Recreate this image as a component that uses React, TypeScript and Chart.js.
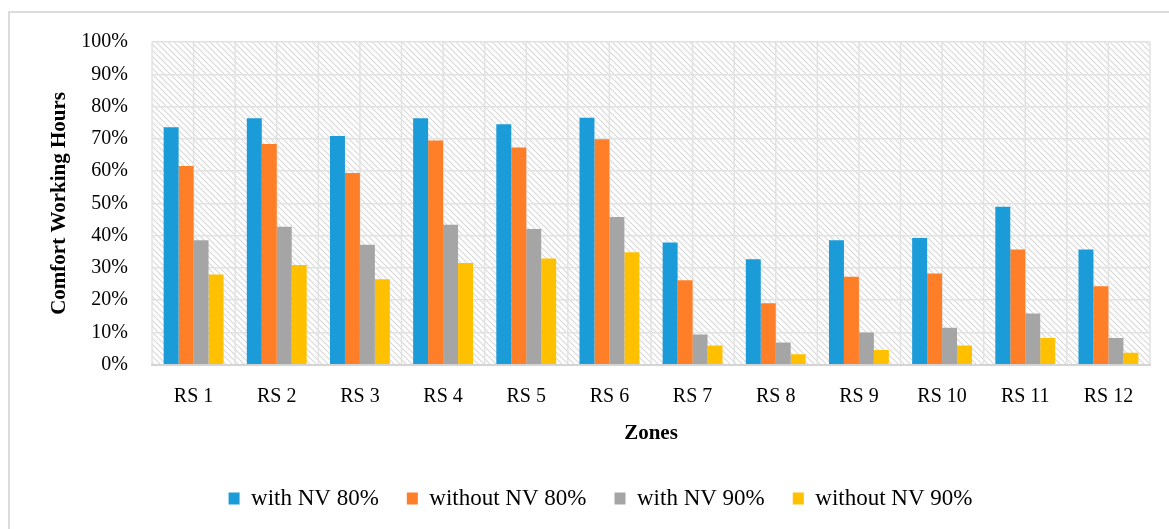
import React, { useEffect, useRef } from "react";
import { Chart, registerables } from "chart.js";

Chart.register(...registerables);

const categories = ["RS 1", "RS 2", "RS 3", "RS 4", "RS 5", "RS 6", "RS 7", "RS 8", "RS 9", "RS 10", "RS 11", "RS 12"];
const withNV80 = [73.6, 76.4, 70.9, 76.4, 74.5, 76.5, 37.9, 32.7, 38.6, 39.3, 49.0, 35.7];
const withoutNV80 = [61.6, 68.4, 59.4, 69.5, 67.3, 69.9, 26.2, 19.1, 27.3, 28.3, 35.7, 24.3];
const withNV90 = [38.6, 42.8, 37.2, 43.4, 42.1, 45.8, 9.4, 6.9, 10.0, 11.5, 15.9, 8.3];
const withoutNV90 = [28.0, 30.9, 26.5, 31.5, 32.9, 34.9, 6.0, 3.3, 4.6, 6.0, 8.3, 3.7];
const seriesLabels = ["with NV 80%", "without NV 80%", "with NV 90%", "without NV 90%"];
const seriesColors = ["#1B9BD7", "#FE7F27", "#A5A5A5", "#FFC000"];
const yTicks = [0, 10, 20, 30, 40, 50, 60, 70, 80, 90, 100];

const FONT = "'Liberation Serif', 'Times New Roman', serif";

function makePattern(): CanvasPattern | string {
  const c = document.createElement("canvas");
  const s = 6;
  c.width = s;
  c.height = s;
  const g = c.getContext("2d");
  if (!g) return "#fff";
  g.fillStyle = "#ffffff";
  g.fillRect(0, 0, s, s);
  g.strokeStyle = "#d9d9d9";
  g.lineWidth = 1.2;
  g.beginPath();
  g.moveTo(-1, -1);
  g.lineTo(s + 1, s + 1);
  g.moveTo(s - 1, -1);
  g.lineTo(s + 1, 1);
  g.moveTo(-1, s - 1);
  g.lineTo(1, s + 1);
  g.stroke();
  const p = g.createPattern(c, "repeat");
  return p || "#fff";
}

const backgroundPlugin = {
  id: "hatchBackground",
  beforeDraw(chart: any) {
    const { ctx, chartArea, scales } = chart;
    if (!chartArea) return;
    const { left, top, right, bottom } = chartArea;
    ctx.save();
    ctx.fillStyle = (chart as any).$pattern || "#fff";
    ctx.fillRect(left, top, right - left, bottom - top);
    // vertical grid lines at category centres and boundaries
    const x = scales.x;
    ctx.strokeStyle = "#e2e2e2";
    ctx.lineWidth = 1.5;
    ctx.beginPath();
    const n = categories.length;
    const half = (x.getPixelForValue(1) - x.getPixelForValue(0)) / 2;
    for (let i = 0; i < n; i++) {
      const c = x.getPixelForValue(i);
      ctx.moveTo(c, top);
      ctx.lineTo(c, bottom);
      ctx.moveTo(c - half, top);
      ctx.lineTo(c - half, bottom);
      if (i === n - 1) {
        ctx.moveTo(c + half, top);
        ctx.lineTo(c + half, bottom);
      }
    }
    ctx.stroke();
    ctx.restore();
  },
};

export default function App() {
  const ref = useRef<HTMLCanvasElement>(null);

  useEffect(() => {
    if (!ref.current) return;
    const data = [withNV80, withoutNV80, withNV90, withoutNV90];
    const chart = new Chart(ref.current, {
      type: "bar",
      data: {
        labels: categories,
        datasets: data.map((d, i) => ({
          label: seriesLabels[i],
          data: d,
          backgroundColor: seriesColors[i],
          borderWidth: 0,
          categoryPercentage: 0.72,
          barPercentage: 1.0,
        })),
      },
      options: {
        animation: false,
        responsive: false,
        maintainAspectRatio: false,
        layout: { padding: { top: 42, right: 19, bottom: 9, left: 51 } },
        plugins: {
          tooltip: { enabled: false },
          legend: {
            position: "bottom",
            labels: {
              font: { family: FONT, size: 23 },
              color: "#000",
              boxWidth: 11,
              boxHeight: 12,
              padding: 28,
            },
          },
        },
        scales: {
          x: {
            type: "category",
            offset: true,
            grid: { display: false, drawTicks: false },
            border: { display: true, color: "#d4d4d4", width: 2 },
            ticks: {
              font: { family: FONT, size: 20 },
              color: "#000",
              padding: 20,
              maxRotation: 0,
            },
            title: {
              display: true,
              text: "Zones",
              font: { family: FONT, size: 21, weight: "bold" },
              color: "#000",
              padding: { top: -8, bottom: 13 },
            },
          },
          y: {
            min: 0,
            max: 100,
            afterFit(scale: any) {
              scale.width = 101;
            },
            afterBuildTicks(scale: any) {
              scale.ticks = yTicks.map((v) => ({ value: v }));
            },
            grid: { color: "#e2e2e2", lineWidth: 1.5, drawTicks: false },
            border: { display: false },
            ticks: {
              font: { family: FONT, size: 20 },
              color: "#000",
              padding: 24,
              callback: (v: any) => `${v}%`,
            },
            title: {
              display: true,
              text: "Comfort Working Hours",
              font: { family: FONT, size: 21, weight: "bold" },
              color: "#000",
              padding: { top: -4, bottom: 0 },
            },
          },
        },
      },
      plugins: [backgroundPlugin],
    });
    (chart as any).$pattern = makePattern();
    chart.draw();
    return () => chart.destroy();
  }, []);

  return (
    <div
      style={{
        position: "absolute",
        left: 0,
        top: 0,
        width: 1169,
        height: 529,
        overflow: "hidden",
        background: "#fff",
      }}
    >
      <div
        style={{
          position: "absolute",
          left: 8,
          top: 11,
          width: 1300,
          height: 700,
          border: "2px solid #dcdcdc",
        }}
      />
      <canvas
        ref={ref}
        width={1169}
        height={529}
        style={{ position: "absolute", left: 0, top: 0, width: 1169, height: 529 }}
      />
    </div>
  );
}
